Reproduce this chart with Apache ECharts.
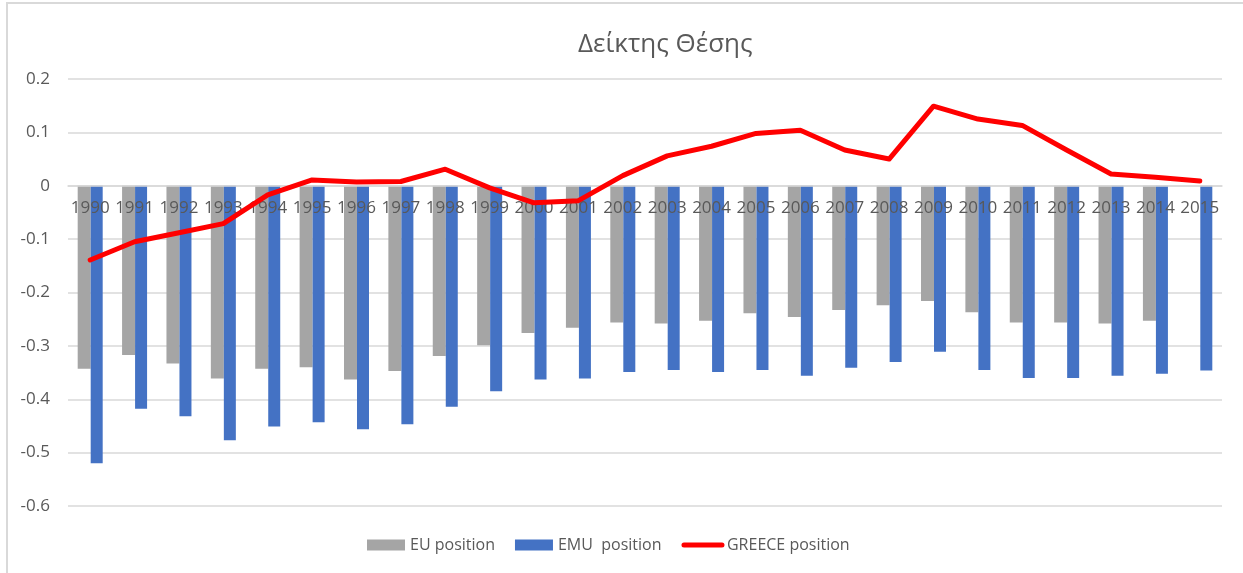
<!DOCTYPE html>
<html>
<head>
<meta charset="utf-8">
<script src="https://cdn.jsdelivr.net/npm/echarts@6/dist/echarts.min.js"></script>
<style>
  html, body { margin: 0; padding: 0; background: #fff; overflow: hidden; }
  #frame { position: absolute; left: 6px; top: 2px; width: 1300px; height: 640px; border: 2px solid #d9d9d9; box-sizing: border-box; }
  #chart { position: absolute; left: 0; top: 0; width: 1243px; height: 573px; }
</style>
</head>
<body>
<div id="frame"></div>
<div id="chart"></div>
<script>
const years = ["1990", "1991", "1992", "1993", "1994", "1995", "1996", "1997", "1998", "1999",
  "2000", "2001", "2002", "2003", "2004", "2005", "2006", "2007", "2008", "2009",
  "2010", "2011", "2012", "2013", "2014", "2015"];

const euPosition = [-0.343, -0.317, -0.333, -0.361, -0.343, -0.340, -0.363, -0.347, -0.319, -0.299,
  -0.276, -0.266, -0.256, -0.258, -0.253, -0.239, -0.246, -0.233, -0.224, -0.216,
  -0.237, -0.256, -0.256, -0.258, -0.253, null];

const emuPosition = [-0.520, -0.418, -0.432, -0.477, -0.451, -0.443, -0.456, -0.447, -0.414, -0.385,
  -0.363, -0.361, -0.349, -0.345, -0.349, -0.345, -0.356, -0.341, -0.330, -0.311,
  -0.345, -0.360, -0.360, -0.356, -0.352, -0.346];

const greecePosition = [-0.139, -0.105, -0.088, -0.071, -0.017, 0.011, 0.007, 0.008, 0.031, -0.004,
  -0.032, -0.028, 0.019, 0.056, 0.074, 0.098, 0.104, 0.067, 0.050, 0.149,
  0.125, 0.113, 0.067, 0.022, 0.016, 0.009];

const yMin = -0.6, yMax = 0.2;
const gridTop = 79, gridBottom = 67, chartH = 573;

// the year labels sit just under the zero line, as in the spreadsheet chart
const zeroOffset = -(chartH - gridTop - gridBottom) * (0 - yMin) / (yMax - yMin);

const chart = echarts.init(document.getElementById("chart"));
const font = "'Open Sans', 'Noto Sans', sans-serif";

chart.setOption({
  animation: false,
  textStyle: { fontFamily: font },
  title: {
    text: "Δείκτης Θέσης",
    left: 573,
    top: 27,
    textStyle: { fontSize: 26, fontWeight: "normal", color: "#595959", fontFamily: font }
  },
  legend: {
    bottom: 15,
    left: 362,
    itemGap: 20,
    itemWidth: 38,
    itemHeight: 11,
    textStyle: { fontSize: 16, color: "#595959", fontFamily: font },
    data: [
      { name: "EU position", icon: "rect" },
      { name: "EMU  position", icon: "rect" },
      {
        name: "GREECE position",
        itemStyle: { color: "rgba(0,0,0,0)", borderWidth: 0, opacity: 0 },
        lineStyle: { color: "#ff0000", width: 5, cap: "round" }
      }
    ]
  },
  grid: { left: 68, right: 21, top: gridTop, bottom: gridBottom },
  xAxis: {
    type: "category",
    data: years,
    offset: zeroOffset,
    z: 3,
    axisLine: { show: true, onZero: false, lineStyle: { color: "#d9d9d9", width: 1.5 } },
    axisTick: { show: false },
    axisLabel: { color: "#595959", fontSize: 17, margin: 14, interval: 0, fontFamily: font }
  },
  yAxis: {
    type: "value",
    min: yMin,
    max: yMax,
    interval: 0.1,
    axisLine: { show: false },
    axisTick: { show: false },
    splitLine: { lineStyle: { color: "#d9d9d9", width: 1.5 } },
    axisLabel: {
      color: "#595959", fontSize: 17, margin: 18, fontFamily: font,
      formatter: v => String(Math.round(v * 10) / 10)
    }
  },
  series: [
    {
      name: "EU position",
      type: "bar",
      data: euPosition,
      barWidth: 13,
      barGap: "0%",
      itemStyle: { color: "#a5a5a5" }
    },
    {
      name: "EMU  position",
      type: "bar",
      data: emuPosition,
      barWidth: 12,
      itemStyle: { color: "#4472c4" }
    },
    {
      name: "GREECE position",
      type: "line",
      data: greecePosition,
      symbol: "none",
      lineStyle: { color: "#ff0000", width: 5, cap: "round", join: "round" },
      itemStyle: { color: "#ff0000" },
      z: 5
    }
  ]
});
</script>
</body>
</html>
